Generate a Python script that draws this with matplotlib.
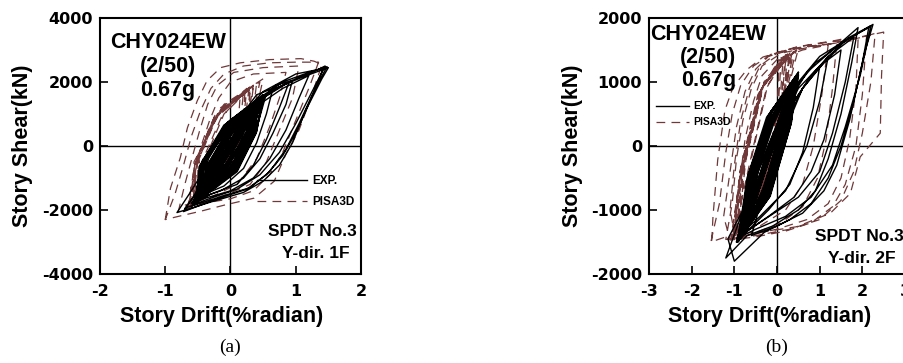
import matplotlib
matplotlib.use("Agg")
import matplotlib.pyplot as plt

# ---------------- data: panel (a) ----------------
a_xticks = [-2, -1, 0, 1, 2]
a_yticks = [-4000, -2000, 0, 2000, 4000]

# EXP, small dense cycles, wide ones (6 points per cycle)
a_exp_core_x = [-0.50, 0.06, 0.37, 0.45, -0.04, -0.42, -0.45, 0.02, 0.32, 0.40, -0.08, -0.45,
                -0.55, 0.10, 0.40, 0.50, 0.00, -0.40, -0.35, 0.07, 0.29, 0.35, -0.05, -0.34,
                -0.48, 0.04, 0.35, 0.48, -0.02, -0.44, -0.42, 0.00, 0.31, 0.38, -0.10, -0.48,
                -0.52, 0.12, 0.41, 0.52, 0.02, -0.38, -0.28, 0.08, 0.24, 0.30, -0.04, -0.28,
                -0.46, 0.08, 0.37, 0.43, -0.06, -0.42, -0.50, 0.02, 0.33, 0.47, 0.00, -0.46,
                -0.40, 0.06, 0.35, 0.42, -0.10, -0.40, -0.54, 0.10, 0.39, 0.50, -0.04, -0.44,
                -0.22, 0.08, 0.20, 0.25, -0.04, -0.22, -0.44, 0.08, 0.37, 0.44, -0.02, -0.38,
                -0.50, 0.04, 0.33, 0.40, -0.08, -0.44, -0.56, 0.08, 0.39, 0.55, 0.02, -0.42]
a_exp_core_y = [-1700, -700, 500, 1500, 700, -500, -1600, -800, 400, 1400, 600, -600,
                -1800, -750, 450, 1600, 800, -400, -1300, -500, 500, 1200, 600, -400,
                -1650, -700, 550, 1550, 750, -550, -1500, -800, 350, 1300, 650, -650,
                -1750, -650, 600, 1600, 700, -450, -1100, -400, 450, 1000, 500, -350,
                -1580, -600, 500, 1450, 700, -500, -1700, -750, 400, 1500, 800, -600,
                -1450, -650, 500, 1350, 600, -450, -1780, -800, 400, 1580, 750, -500,
                -900, -300, 400, 800, 400, -300, -1550, -700, 550, 1450, 700, -450,
                -1680, -700, 450, 1400, 650, -550, -1800, -750, 500, 1650, 800, -500]
# EXP, small dense cycles, narrow ones
a_exp_thin_x = [-0.50, -0.06, 0.30, 0.45, 0.06, -0.30, -0.45, -0.10, 0.25, 0.40, 0.02, -0.33,
                -0.55, -0.02, 0.33, 0.50, 0.10, -0.28, -0.35, -0.05, 0.22, 0.35, 0.05, -0.22,
                -0.48, -0.08, 0.28, 0.48, 0.08, -0.32, -0.42, -0.12, 0.24, 0.38, 0.00, -0.36,
                -0.52, 0.00, 0.34, 0.52, 0.12, -0.26, -0.28, -0.02, 0.18, 0.30, 0.04, -0.18,
                -0.46, -0.04, 0.30, 0.43, 0.04, -0.30, -0.50, -0.10, 0.26, 0.47, 0.10, -0.34,
                -0.40, -0.06, 0.28, 0.42, 0.00, -0.28, -0.54, -0.02, 0.32, 0.50, 0.06, -0.32]
a_exp_thin_y = [-1700, -700, 500, 1500, 700, -500, -1600, -800, 400, 1400, 600, -600,
                -1800, -750, 450, 1600, 800, -400, -1300, -500, 500, 1200, 600, -400,
                -1650, -700, 550, 1550, 750, -550, -1500, -800, 350, 1300, 650, -650,
                -1750, -650, 600, 1600, 700, -450, -1100, -400, 450, 1000, 500, -350,
                -1580, -600, 500, 1450, 700, -500, -1700, -750, 400, 1500, 800, -600,
                -1450, -650, 500, 1350, 600, -450, -1780, -800, 400, 1580, 750, -500]
# EXP, straight reversals through the middle of the core
a_exp_mid_x = [-0.55, 0.40, -0.45, 0.50, -0.60, 0.35, -0.40, 0.55, -0.50, 0.30, -0.35, 0.45,
               -0.58, 0.52, -0.42, 0.38, -0.52, 0.48, -0.38, 0.42, -0.48, 0.33, -0.55, 0.50]
a_exp_mid_y = [-1750, 1450, -1600, 1600, -1800, 1300, -1500, 1600, -1700, 1200, -1350, 1500,
               -1780, 1550, -1550, 1350, -1700, 1500, -1450, 1400, -1650, 1250, -1750, 1550]
# EXP, larger cycles
a_exp_x = [-0.55, -0.3, 0.0, 0.4, 0.8, 1.2, 1.48, 1.35, 1.15, 0.95, 0.75, 0.5, 0.2, -0.3, -0.82,
           -0.6, -0.3, 0.05, 0.5, 1.0, 1.42, 1.3, 1.05, 0.85, 0.6, 0.3, -0.1, -0.55,
           -0.35, -0.05, 0.35, 0.75, 1.1, 1.5, 1.4, 1.2, 1.0, 0.8, 0.55, 0.25, -0.2, -0.72,
           -0.45, -0.15, 0.3, 0.7, 0.95, 0.85, 0.65, 0.45, 0.2, -0.15, -0.5,
           -0.3, 0.0, 0.4, 0.65, 0.55, 0.4, 0.2, -0.1, -0.45,
           -0.2, 0.15, 0.6, 1.0, 1.3, 1.45, 1.25, 1.0, 0.75, 0.45, 0.1, -0.4, -0.7,
           -0.45, -0.1, 0.3, 0.8, 1.2, 1.05, 0.85, 0.6, 0.35, 0.0, -0.5, -0.6,
           -0.35, 0.05, 0.5, 0.9, 0.75, 0.55, 0.35, 0.1, -0.3, -0.55]
a_exp_y = [-1800, -800, 300, 1400, 2000, 2300, 2480, 2000, 1100, 100, -600, -1100, -1450, -1750, -2080,
           -1400, -400, 700, 1700, 2250, 2420, 1800, 700, -100, -800, -1300, -1550, -1850,
           -1000, 200, 1300, 1850, 2150, 2450, 2100, 1300, 400, -300, -900, -1350, -1650, -2050,
           -1200, 0, 1200, 1900, 2050, 1300, 400, -400, -1000, -1400, -1650,
           -700, 500, 1600, 1800, 1000, 100, -700, -1250, -1550,
           -600, 700, 1700, 2100, 2350, 2500, 1700, 700, -200, -900, -1350, -1700, -1950,
           -1300, -100, 1100, 1800, 2200, 1500, 500, -400, -1000, -1400, -1700, -1900,
           -1100, 300, 1500, 2000, 1200, 200, -600, -1200, -1500, -1800]

# PISA3D
a_pisa_x = [-1.0, -0.92, -0.77, -0.66, -0.51, -0.36, -0.15, 0.15, 0.6, 1.08, 1.28, 1.4, 1.25, 1.05, 0.85,
            0.67, 0.36, -0.1, -0.46, -0.8, -1.0,
            -0.85, -0.72, -0.6, -0.46, -0.3, -0.1, 0.2, 0.6, 1.0, 1.35, 1.2, 1.0, 0.8, 0.6, 0.35, 0.0,
            -0.45, -0.8,
            -0.7, -0.58, -0.47, -0.35, -0.2, 0.05, 0.5, 1.05, 0.95, 0.75, 0.55, 0.3, -0.1, -0.65,
            -0.55, -0.45, -0.32, -0.18, 0.0, 0.35, 0.85, 0.75, 0.6, 0.4, 0.1, -0.3, -0.7]
a_pisa_y = [-2300, -1320, -370, 570, 1410, 2040, 2450, 2600, 2700, 2730, 2650, 2550, 1600, 500, -250,
            -1100, -1630, -1850, -2040, -2200, -2300,
            -1500, -600, 300, 1100, 1800, 2250, 2500, 2600, 2620, 2620, 1800, 800, -200, -900, -1400, -1650,
            -1800, -2050,
            -1200, -300, 500, 1300, 1900, 2300, 2450, 2500, 1500, 500, -500, -1200, -1550, -1900,
            -900, 0, 800, 1500, 2000, 2250, 2300, 1500, 600, -400, -1200, -1600, -1850]
a_pisa_core_x = [-0.60, -0.05, 0.25, 0.35, -0.20, -0.55, -0.55, -0.10, 0.20, 0.25, -0.25, -0.55,
                 -0.65, 0.00, 0.30, 0.45, -0.15, -0.50, -0.50, -0.08, 0.15, 0.20, -0.27, -0.56,
                 -0.62, -0.02, 0.28, 0.30, -0.23, -0.52, -0.58, 0.05, 0.32, 0.40, -0.17, -0.48,
                 -0.45, -0.10, 0.12, 0.15, -0.30, -0.54, -0.66, 0.02, 0.35, 0.50, -0.10, -0.56,
                 -0.52, -0.05, 0.22, 0.28, -0.25, -0.54, -0.60, 0.00, 0.28, 0.35, -0.21, -0.50,
                 -0.58, -0.05, 0.25, 0.30, -0.10, -0.40, -0.52, -0.02, 0.20, 0.22, -0.14, -0.44]
a_pisa_core_y = [-1850, -800, 700, 1900, 1000, -500, -1750, -700, 800, 1800, 900, -600,
                 -1900, -900, 600, 2000, 1200, -400, -1650, -600, 700, 1700, 800, -700,
                 -1850, -850, 750, 1850, 1000, -450, -1800, -800, 650, 1950, 1100, -400,
                 -1500, -500, 800, 1600, 700, -600, -1950, -900, 700, 2100, 1300, -500,
                 -1700, -700, 750, 1750, 850, -550, -1820, -800, 700, 1850, 950, -480,
                 -1780, -750, 650, 1800, 1000, -450, -1720, -700, 700, 1700, 900, -500]

# ---------------- data: panel (b) ----------------
b_xticks = [-3, -2, -1, 0, 1, 2, 3]
b_yticks = [-2000, -1000, 0, 1000, 2000]

b_exp_core_x = [-0.85, -0.23, 0.28, 0.45, -0.16, -0.62, -0.80, -0.28, 0.23, 0.40, -0.20, -0.67,
                -0.90, -0.18, 0.32, 0.50, -0.12, -0.58, -0.70, -0.22, 0.20, 0.35, -0.16, -0.55,
                -0.88, -0.24, 0.30, 0.48, -0.14, -0.64, -0.75, -0.30, 0.18, 0.38, -0.24, -0.70,
                -0.92, -0.16, 0.34, 0.46, -0.10, -0.56, -0.60, -0.18, 0.15, 0.30, -0.15, -0.50,
                -0.86, -0.22, 0.26, 0.44, -0.18, -0.64, -0.82, -0.18, 0.32, 0.50, -0.12, -0.60,
                -0.78, -0.26, 0.22, 0.42, -0.20, -0.66, -0.90, -0.20, 0.28, 0.47, -0.15, -0.62,
                -0.50, -0.14, 0.12, 0.25, -0.12, -0.40, -0.84, -0.24, 0.30, 0.45, -0.14, -0.62,
                -0.94, -0.18, 0.32, 0.48, -0.16, -0.60]
b_exp_core_y = [-1450, -800, 300, 1100, 500, -400, -1400, -850, 250, 1050, 450, -450,
                -1480, -750, 350, 1100, 550, -350, -1250, -700, 300, 950, 400, -350,
                -1420, -820, 320, 1120, 520, -420, -1350, -850, 200, 1000, 450, -500,
                -1500, -780, 380, 1080, 560, -330, -1100, -600, 300, 900, 350, -300,
                -1440, -800, 300, 1060, 500, -420, -1380, -760, 360, 1150, 560, -380,
                -1330, -800, 280, 1020, 460, -460, -1460, -790, 320, 1100, 520, -400,
                -900, -450, 350, 800, 300, -250, -1420, -820, 340, 1080, 540, -400,
                -1500, -800, 330, 1120, 520, -380]
b_exp_thin_x = [-0.85, -0.35, 0.20, 0.45, -0.06, -0.50, -0.80, -0.40, 0.15, 0.40, -0.10, -0.55,
                -0.90, -0.30, 0.24, 0.50, -0.02, -0.46, -0.70, -0.32, 0.12, 0.35, -0.08, -0.45,
                -0.88, -0.36, 0.22, 0.48, -0.04, -0.52, -0.75, -0.42, 0.10, 0.38, -0.14, -0.58,
                -0.92, -0.28, 0.26, 0.46, 0.00, -0.44, -0.60, -0.28, 0.08, 0.30, -0.08, -0.40,
                -0.86, -0.34, 0.18, 0.44, -0.08, -0.52, -0.82, -0.30, 0.24, 0.50, -0.02, -0.48]
b_exp_thin_y = [-1450, -800, 300, 1100, 500, -400, -1400, -850, 250, 1050, 450, -450,
                -1480, -750, 350, 1100, 550, -350, -1250, -700, 300, 950, 400, -350,
                -1420, -820, 320, 1120, 520, -420, -1350, -850, 200, 1000, 450, -500,
                -1500, -780, 380, 1080, 560, -330, -1100, -600, 300, 900, 350, -300,
                -1440, -800, 300, 1060, 500, -420, -1380, -760, 360, 1150, 560, -380]
b_exp_mid_x = [-0.90, 0.40, -0.80, 0.50, -0.95, 0.35, -0.75, 0.48, -0.85, 0.30, -0.70, 0.45,
               -0.92, 0.50, -0.78, 0.38, -0.88, 0.44, -0.72, 0.42, -0.86, 0.34, -0.94, 0.47]
b_exp_mid_y = [-1480, 1050, -1380, 1120, -1500, 1000, -1330, 1100, -1450, 950, -1250, 1080,
               -1480, 1150, -1350, 1000, -1440, 1060, -1300, 1050, -1420, 980, -1500, 1100]
b_exp_x = [-0.9, -0.6, -0.2, 0.3, 0.9, 1.5, 2.0, 2.25, 2.05, 1.8, 1.5, 1.2, 0.8, 0.3, -0.3, -1.0,
           -1.15, -0.8, -0.4, 0.1, 0.7, 1.3, 1.9, 1.75, 1.5, 1.2, 0.9, 0.5, -0.1, -0.7, -1.2,
           -0.9, -0.5, 0.0, 0.5, 1.0, 1.6, 2.15, 2.0, 1.7, 1.4, 1.1, 0.6, 0.0, -0.6,
           -0.3, 0.1, 0.6, 1.1, 1.5, 1.35, 1.1, 0.8, 0.4, -0.2, -0.75,
           -0.4, 0.0, 0.5, 1.0, 0.85, 0.6, 0.3, -0.2, -0.8,
           -0.5, 0.1, 0.8, 1.4, 1.8, 1.6, 1.3, 1.0, 0.5, -0.3, -0.85,
           -0.55, 0.0, 0.6, 1.2, 1.7, 2.2, 1.95, 1.6, 1.3, 0.8, 0.2, -0.5, -0.95,
           -0.6, -0.1, 0.4, 0.8, 1.2, 1.0, 0.7, 0.2, -0.4, -0.8]
b_exp_y = [-1450, -900, 0, 800, 1300, 1600, 1800, 1900, 1450, 700, 0, -500, -900, -1150, -1350, -1800,
           -1450, -1000, -300, 500, 1150, 1500, 1850, 1300, 500, -200, -700, -1000, -1250, -1400, -1750,
           -1200, -500, 300, 1000, 1400, 1650, 1850, 1300, 400, -300, -700, -1050, -1250, -1400,
           -700, 100, 900, 1300, 1500, 800, 100, -400, -800, -1100, -1350,
           -600, 200, 900, 1250, 600, -100, -600, -1000, -1400,
           -600, 400, 1100, 1500, 1700, 1000, 200, -400, -800, -1150, -1400,
           -800, 100, 900, 1400, 1700, 1880, 1100, 300, -300, -800, -1100, -1300, -1450,
           -900, 0, 700, 1100, 1400, 700, 0, -700, -1100, -1350]

b_pisa_x = [-1.53, -1.5, -1.39, -1.22, -1.03, -0.71, -0.33, 0.47, 1.1, 1.65, 2.1, 2.5, 2.45, 2.42, 1.95, 1.72,
            1.25, 0.47, -0.2, -0.71, -1.2, -1.55,
            -1.35, -1.2, -1.05, -0.85, -0.55, -0.1, 0.6, 1.3, 2.0, 2.3, 2.2, 2.0, 1.8, 1.5, 1.0, 0.3, -0.5, -1.2,
            -1.05, -0.95, -0.8, -0.6, -0.35, 0.1, 0.8, 1.5, 1.9, 1.85, 1.7, 1.5, 1.2, 0.7, 0.0, -0.7, -1.0,
            -0.9, -0.75, -0.55, -0.35, 0.0, 0.6, 1.2, 1.05, 0.85, 0.6, 0.2, -0.4, -1.0,
            -1.1, -1.0, -0.85, -0.65, -0.4, 0.0, 0.5, 1.0, 1.6, 2.1, 2.0, 1.85, 1.6, 1.3, 0.8, 0.2, -0.5, -1.1,
            -1.25, -1.1, -0.95, -0.75, -0.5, -0.2, 0.3, 0.9, 1.4, 1.3, 1.15, 0.95, 0.6, 0.1, -0.6, -1.25]
b_pisa_y = [-1480, -1100, -220, 560, 920, 1190, 1390, 1550, 1620, 1650, 1720, 1780, 1100, 200, -170, -740,
            -1050, -1260, -1330, -1360, -1420, -1500,
            -900, -100, 500, 950, 1250, 1450, 1550, 1600, 1700, 1760, 1000, 200, -400, -850, -1150, -1300, -1400, -1460,
            -900, -200, 400, 900, 1250, 1450, 1550, 1620, 1660, 900, 100, -500, -900, -1150, -1300, -1400, -1440,
            -700, 100, 700, 1100, 1350, 1500, 1580, 800, 0, -600, -1000, -1250, -1350,
            -1000, -300, 400, 900, 1250, 1450, 1550, 1600, 1680, 1720, 800, 0, -600, -950, -1200, -1330, -1420, -1470,
            -1100, -400, 300, 850, 1200, 1400, 1500, 1570, 1600, 900, 100, -500, -950, -1200, -1380, -1480]
b_pisa_core_x = [-1.00, -0.35, 0.10, 0.30, -0.35, -0.80, -0.95, -0.40, 0.05, 0.15, -0.40, -0.85,
                 -1.05, -0.30, 0.15, 0.45, -0.30, -0.75, -0.90, -0.38, 0.00, 0.05, -0.45, -0.87,
                 -1.02, -0.32, 0.12, 0.35, -0.32, -0.77, -0.96, -0.36, 0.08, 0.20, -0.38, -0.83,
                 -1.08, -0.28, 0.18, 0.50, -0.28, -0.73, -0.92, -0.40, 0.02, 0.10, -0.42, -0.85,
                 -1.00, -0.34, 0.10, 0.40, -0.34, -0.79, -1.04, -0.30, 0.14, 0.25, -0.36, -0.81,
                 -0.98, -0.36, 0.08, 0.22, -0.25, -0.65, -1.02, -0.32, 0.12, 0.32, -0.22, -0.62]
b_pisa_core_y = [-1400, -700, 600, 1450, 900, -300, -1380, -750, 550, 1400, 850, -350,
                 -1420, -650, 650, 1500, 1000, -250, -1350, -700, 500, 1350, 800, -400,
                 -1400, -700, 620, 1450, 950, -280, -1390, -720, 580, 1420, 880, -320,
                 -1440, -640, 680, 1520, 1050, -220, -1360, -740, 520, 1380, 820, -380,
                 -1410, -690, 600, 1480, 920, -300, -1430, -660, 640, 1440, 900, -330,
                 -1390, -720, 560, 1430, 900, -300, -1420, -680, 620, 1470, 950, -260]

# ---------------- drawing ----------------
W, H = 904, 363
fig = plt.figure(figsize=(W / 100, H / 100), dpi=100)
plt.rcParams['font.family'] = ['Liberation Sans', 'DejaVu Sans']

BROWN = '#703838'
DASH = (0, (7, 5))
TICKFONT = {'family': ['DejaVu Sans'], 'weight': 'bold', 'size': 11.5}


def setup(ax, xlim, ylim, xt, yt, xl_x):
    ax.set_xlim(*xlim)
    ax.set_ylim(*ylim)
    ax.set_xticks(xt)
    ax.set_yticks(yt)
    ax.set_xticklabels([str(v) for v in xt], fontdict=TICKFONT)
    ax.set_yticklabels([str(v) for v in yt], fontdict=TICKFONT)
    ax.tick_params(direction='in', length=6, width=1.2, top=False, right=False)
    ax.tick_params(axis='x', pad=7)
    ax.tick_params(axis='y', pad=5)
    for s in ax.spines.values():
        s.set_linewidth(1.5)
    ax.axhline(0, color='black', lw=1.0, zorder=1)
    ax.axvline(0, color='black', lw=1.0, zorder=1)
    ax.set_xlabel('Story Drift(%radian)', fontsize=15.5, fontweight='bold', va='center')
    ax.set_ylabel('Story Shear(kN)', fontsize=15.5, fontweight='bold', va='center')
    ax.xaxis.set_label_coords(xl_x, -0.165)
    ax.yaxis.set_label_coords(-0.298, 0.5)


# panel (a)
axa = fig.add_axes([100 / W, 1 - 274 / H, 261 / W, 256 / H])
setup(axa, (-2, 2), (-4000, 4000), a_xticks, a_yticks, 0.467)
axa.plot(a_pisa_x, a_pisa_y, color=BROWN, lw=0.9, linestyle=DASH, label='PISA3D', zorder=2)
axa.plot(a_pisa_core_x, a_pisa_core_y, color=BROWN, lw=0.9, linestyle=DASH, zorder=2)
axa.plot(a_exp_x, a_exp_y, color='black', lw=1.0, label='EXP.', zorder=3)
axa.plot(a_exp_core_x, a_exp_core_y, color='black', lw=1.2, zorder=3)
axa.plot(a_exp_thin_x, a_exp_thin_y, color='black', lw=1.2, zorder=3)
axa.plot(a_exp_mid_x, a_exp_mid_y, color='black', lw=1.2, zorder=3)
hA, lA = axa.get_legend_handles_labels()
axa.legend(hA[::-1], lA[::-1], loc='upper left', bbox_to_anchor=(0.60, 0.385), frameon=False,
           borderpad=0, borderaxespad=0, handlelength=4.3, handletextpad=0.4, labelspacing=0.75,
           prop={'size': 8.5, 'weight': 'bold'})
axa.text(0.26, 0.947, 'CHY024EW\n(2/50)\n0.67g', transform=axa.transAxes, ha='center', va='top',
         fontsize=15.5, fontweight='bold', linespacing=1.2)
axa.text(0.985, 0.165, 'SPDT No.3', transform=axa.transAxes, ha='right', va='center',
         fontsize=12.5, fontweight='bold')
axa.text(0.955, 0.08, 'Y-dir. 1F', transform=axa.transAxes, ha='right', va='center',
         fontsize=12.5, fontweight='bold')

# panel (b)
axb = fig.add_axes([649 / W, 1 - 274 / H, 256 / W, 256 / H])
setup(axb, (-3, 3), (-2000, 2000), b_xticks, b_yticks, 0.473)
axb.plot(b_pisa_x, b_pisa_y, color=BROWN, lw=0.9, linestyle=DASH, label='PISA3D', zorder=2)
axb.plot(b_pisa_core_x, b_pisa_core_y, color=BROWN, lw=0.9, linestyle=DASH, zorder=2)
axb.plot(b_exp_x, b_exp_y, color='black', lw=1.0, label='EXP.', zorder=3)
axb.plot(b_exp_core_x, b_exp_core_y, color='black', lw=1.2, zorder=3)
axb.plot(b_exp_thin_x, b_exp_thin_y, color='black', lw=1.2, zorder=3)
axb.plot(b_exp_mid_x, b_exp_mid_y, color='black', lw=1.2, zorder=3)
hB, lB = axb.get_legend_handles_labels()
axb.legend(hB[::-1], lB[::-1], loc='upper left', bbox_to_anchor=(0.027, 0.675), frameon=False,
           borderpad=0, borderaxespad=0, handlelength=3.2, handletextpad=0.4, labelspacing=0.6,
           prop={'size': 7.5, 'weight': 'bold'})
axb.text(0.232, 0.975, 'CHY024EW\n(2/50)\n0.67g', transform=axb.transAxes, ha='center', va='top',
         fontsize=15.5, fontweight='bold', linespacing=1.1)
axb.text(0.995, 0.148, 'SPDT No.3', transform=axb.transAxes, ha='right', va='center',
         fontsize=12.5, fontweight='bold')
axb.text(0.965, 0.062, 'Y-dir. 2F', transform=axb.transAxes, ha='right', va='center',
         fontsize=12.5, fontweight='bold')

fig.text(230 / W, 1 - 347 / H, '(a)', ha='center', va='center', fontsize=14,
         family=['Liberation Serif', 'DejaVu Serif'])
fig.text(777 / W, 1 - 347 / H, '(b)', ha='center', va='center', fontsize=14,
         family=['Liberation Serif', 'DejaVu Serif'])

fig.savefig('out.png', dpi=100)
